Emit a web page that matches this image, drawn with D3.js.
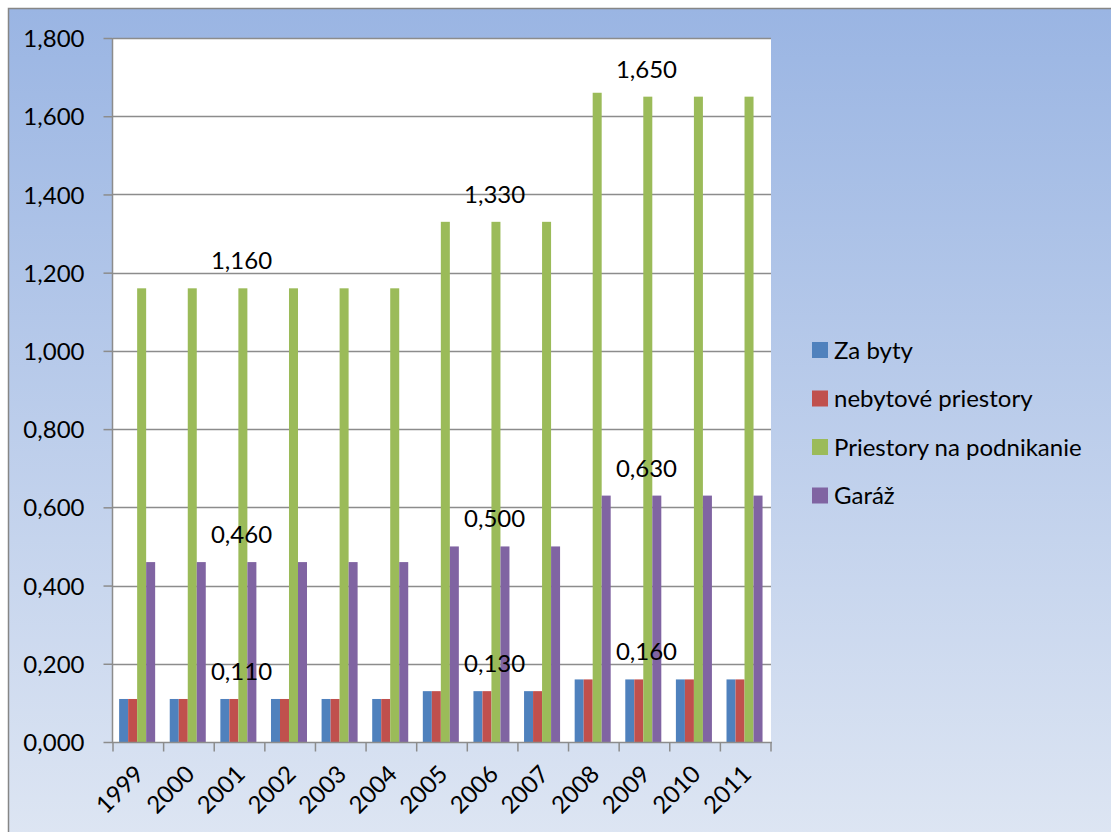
<!DOCTYPE html>
<html>
<head>
<meta charset="utf-8">
<script src="https://cdn.jsdelivr.net/npm/d3@7"></script>
<style>
  body { margin: 0; background: #fff; }
  text { font-family: Lato, "Open Sans", sans-serif; fill: #000; }
</style>
</head>
<body>
<svg id="chart" width="1111" height="832"></svg>
<script>
var years = ["1999", "2000", "2001", "2002", "2003", "2004", "2005", "2006", "2007", "2008", "2009", "2010", "2011"];
var seriesNames = ["Za byty", "nebytové priestory", "Priestory na podnikanie", "Garáž"];
var colors = ["#4f81bd", "#c0504d", "#9bbb59", "#8064a2"];
var zaByty = [0.11, 0.11, 0.11, 0.11, 0.11, 0.11, 0.13, 0.13, 0.13, 0.16, 0.16, 0.16, 0.16];
var nebytove = [0.11, 0.11, 0.11, 0.11, 0.11, 0.11, 0.13, 0.13, 0.13, 0.16, 0.16, 0.16, 0.16];
var podnikanie = [1.16, 1.16, 1.16, 1.16, 1.16, 1.16, 1.33, 1.33, 1.33, 1.66, 1.65, 1.65, 1.65];
var garaz = [0.46, 0.46, 0.46, 0.46, 0.46, 0.46, 0.50, 0.50, 0.50, 0.63, 0.63, 0.63, 0.63];
var yTicks = [0, 0.2, 0.4, 0.6, 0.8, 1.0, 1.2, 1.4, 1.6, 1.8];
// labels typed on the chart: [category, value]
var notes = [["2001", 1.16], ["2001", 0.46], ["2001", 0.11],
             ["2006", 1.33], ["2006", 0.50], ["2006", 0.13],
             ["2009", 1.65], ["2009", 0.63], ["2009", 0.16]];

var allSeries = [zaByty, nebytove, podnikanie, garaz];
var fmt = function(v) { return d3.format(".3f")(v).replace(".", ","); };

var svg = d3.select("#chart");
var plotLeft = 113, plotTop = 38, plotRight = 771, plotBottom = 742;

// background
var grad = svg.append("defs").append("linearGradient")
    .attr("id", "bg").attr("x1", 0).attr("y1", 0).attr("x2", 0).attr("y2", 1);
grad.append("stop").attr("offset", "0%").attr("stop-color", "#9ab5e3");
grad.append("stop").attr("offset", "100%").attr("stop-color", "#dee6f3");

svg.append("rect")
    .attr("x", 8.5).attr("y", 8.5)
    .attr("width", 1120).attr("height", 840)
    .attr("fill", "url(#bg)")
    .attr("stroke", "#868686").attr("stroke-width", 1.5);

svg.append("rect")
    .attr("x", plotLeft).attr("y", plotTop)
    .attr("width", plotRight - plotLeft).attr("height", plotBottom - plotTop)
    .attr("fill", "#fff");

var x = d3.scaleBand().domain(years).range([plotLeft, plotRight]).paddingInner(0).paddingOuter(0);
var x1 = d3.scaleBand().domain(d3.range(4)).range([0, x.bandwidth()])
    .paddingInner(0).paddingOuter(0.81).align(0.42);
var y = d3.scaleLinear().domain([0, 1.8]).range([plotBottom, plotTop]);

// gridlines
svg.append("g").selectAll("line")
    .data(yTicks.slice(1))
    .enter().append("line")
    .attr("x1", plotLeft).attr("x2", plotRight)
    .attr("y1", function(d) { return Math.round(y(d)) + 0.5; })
    .attr("y2", function(d) { return Math.round(y(d)) + 0.5; })
    .attr("stroke", "#8c8c8c").attr("stroke-width", 1.5);

// bars
var groups = svg.append("g").selectAll("g")
    .data(years)
    .enter().append("g")
    .attr("transform", function(d) { return "translate(" + x(d) + ",0)"; });

groups.selectAll("rect")
    .data(function(d, i) { return allSeries.map(function(s, k) { return {k: k, v: s[i]}; }); })
    .enter().append("rect")
    .attr("x", function(d) { return x1(d.k); })
    .attr("width", x1.bandwidth())
    .attr("y", function(d) { return y(d.v); })
    .attr("height", function(d) { return plotBottom - y(d.v); })
    .attr("fill", function(d) { return colors[d.k]; });

// y axis
var yAxis = svg.append("g")
    .attr("transform", "translate(" + (plotLeft - 0.5) + ",0)")
    .call(d3.axisLeft(y).tickValues(yTicks).tickSize(9).tickPadding(19).tickFormat(fmt));
yAxis.selectAll("text").style("font-size", "24px").attr("dy", "0.36em");
yAxis.select(".domain").remove();
yAxis.selectAll(".tick line").attr("stroke", "#8c8c8c").attr("stroke-width", 1.5);

svg.append("line")
    .attr("x1", plotLeft - 0.5).attr("x2", plotLeft - 0.5)
    .attr("y1", plotTop).attr("y2", plotBottom)
    .attr("stroke", "#8c8c8c").attr("stroke-width", 1.5);

// x axis
var xAxis = svg.append("g")
    .attr("transform", "translate(0," + (plotBottom + 0.5) + ")");
xAxis.append("line").attr("x1", plotLeft - 1).attr("x2", plotRight + 1);
xAxis.selectAll(".tk")
    .data(d3.range(years.length + 1))
    .enter().append("line")
    .attr("class", "tk")
    .attr("x1", function(i) { return plotLeft + i * x.bandwidth(); })
    .attr("x2", function(i) { return plotLeft + i * x.bandwidth(); })
    .attr("y1", 0).attr("y2", 9);
xAxis.selectAll("line").attr("stroke", "#8c8c8c").attr("stroke-width", 1.5);
xAxis.selectAll("text")
    .data(years)
    .enter().append("text")
    .attr("transform", function(d) {
      return "translate(" + (x(d) + x.bandwidth() / 2 + 1) + ",27)rotate(-45)";
    })
    .attr("text-anchor", "end")
    .attr("dy", "0.36em")
    .style("font-size", "24px")
    .text(function(d) { return d; });

// value notes
svg.append("g").selectAll("text")
    .data(notes)
    .enter().append("text")
    .attr("x", function(d) { return x(d[0]) + x.bandwidth() / 2 + 2; })
    .attr("y", function(d) { return y(d[1]) - 19; })
    .attr("text-anchor", "middle")
    .style("font-size", "24px")
    .text(function(d) { return fmt(d[1]); });

// legend
var legend = svg.append("g").selectAll("g")
    .data(seriesNames)
    .enter().append("g")
    .attr("transform", function(d, i) { return "translate(812," + (350 + i * 48.5) + ")"; });
legend.append("rect")
    .attr("x", 0).attr("y", -8)
    .attr("width", 16).attr("height", 16)
    .attr("fill", function(d, i) { return colors[i]; });
legend.append("text")
    .attr("x", 22).attr("dy", "0.36em")
    .style("font-size", "24px")
    .text(function(d) { return d; });
</script>
</body>
</html>
